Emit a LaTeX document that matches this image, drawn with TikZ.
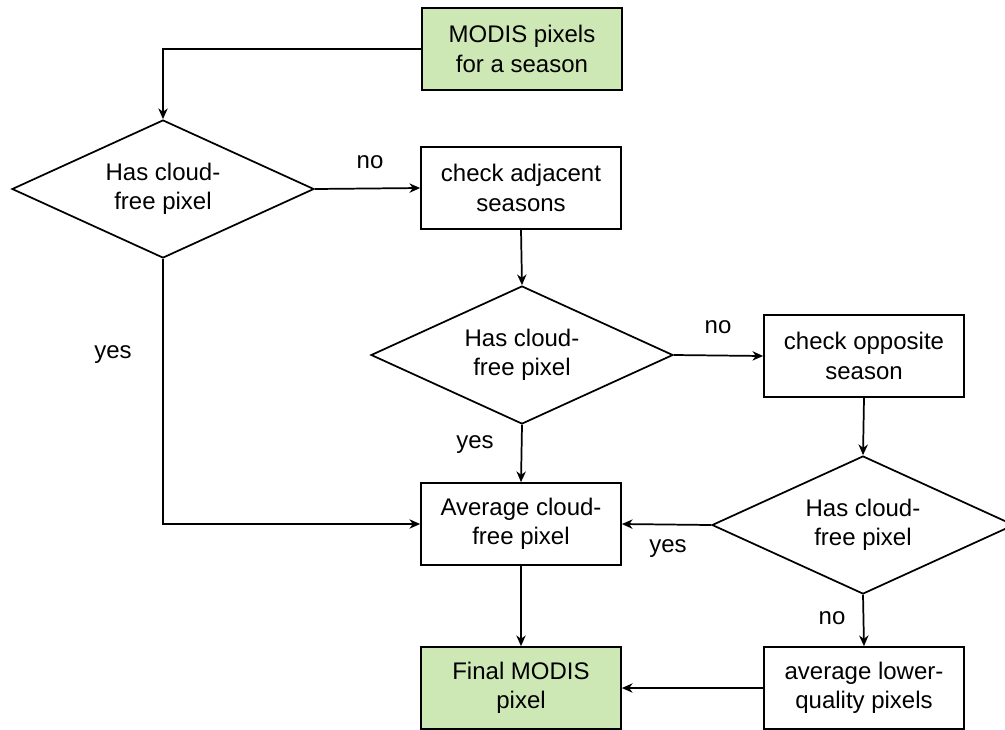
\documentclass[tikz,border=0pt]{standalone}
\usepackage{fontspec}
\setmainfont{Liberation Sans}
\usetikzlibrary{shapes.geometric,arrows.meta}
\definecolor{startgreen}{RGB}{205,231,181}
\tikzset{
  stepbox/.style={draw,line width=1.3pt,minimum width=150pt,minimum height=61.5pt,
    align=center,inner sep=2pt,font=\fontsize{18}{22}\selectfont},
  endbox/.style={stepbox,fill=startgreen},
  decision/.style={draw,diamond,shape aspect=2.2,line width=1.3pt,minimum width=226.5pt,
    minimum height=103.5pt,align=center,inner sep=0pt,font=\fontsize{18}{22}\selectfont},
  flow/.style={line width=1.3pt,-{Stealth[length=8pt,width=7pt,inset=2.5pt]}},
  lbl/.style={font=\fontsize{18}{22}\selectfont}
}
\begin{document}
\begin{tikzpicture}[x=0.75pt,y=-0.75pt]
\useasboundingbox (0,0) rectangle (1005,729);
% boxes
\node[endbox] (start) at (522,49) {MODIS pixels\\for a season};
\node[decision] (cloudA) at (163,189) {Has cloud-\\free pixel};
\node[stepbox] (adjacent) at (521,188) {check adjacent\\seasons};
\node[decision] (cloudB) at (522,355) {Has cloud-\\free pixel};
\node[stepbox] (opposite) at (864,356) {check opposite\\season};
\node[decision] (cloudC) at (863,525) {Has cloud-\\free pixel};
\node[stepbox] (average) at (521,524) {Average cloud-\\free pixel};
\node[endbox] (final) at (521,688) {Final MODIS\\pixel};
\node[stepbox] (lower) at (864,688) {average lower-\\quality pixels};
% connectors
\draw[flow] (start.west) -| (cloudA.north);
\draw[flow] (cloudA.east) -- (adjacent.west);
\draw[flow] (adjacent.south) -- (cloudB.north);
\draw[flow] (cloudB.east) -- (opposite.west);
\draw[flow] (opposite.south) -- (cloudC.north);
\draw[flow] (cloudC.west) -- (average.east);
\draw[flow] (cloudC.south) -- (lower.north);
\draw[flow] (cloudA.south) |- (average.west);
\draw[flow] (cloudB.south) -- (average.north);
\draw[flow] (average.south) -- (final.north);
\draw[flow] (lower.west) -- (final.east);
% labels
\node[lbl] (noA) at (370,162) {no};
\node[lbl] (noB) at (718,327) {no};
\node[lbl] (yesA) at (113,355) {yes};
\node[lbl] (yesB) at (475,445) {yes};
\node[lbl] (yesC) at (668,549) {yes};
\node[lbl] (noC) at (832,618) {no};
\end{tikzpicture}
\end{document}
